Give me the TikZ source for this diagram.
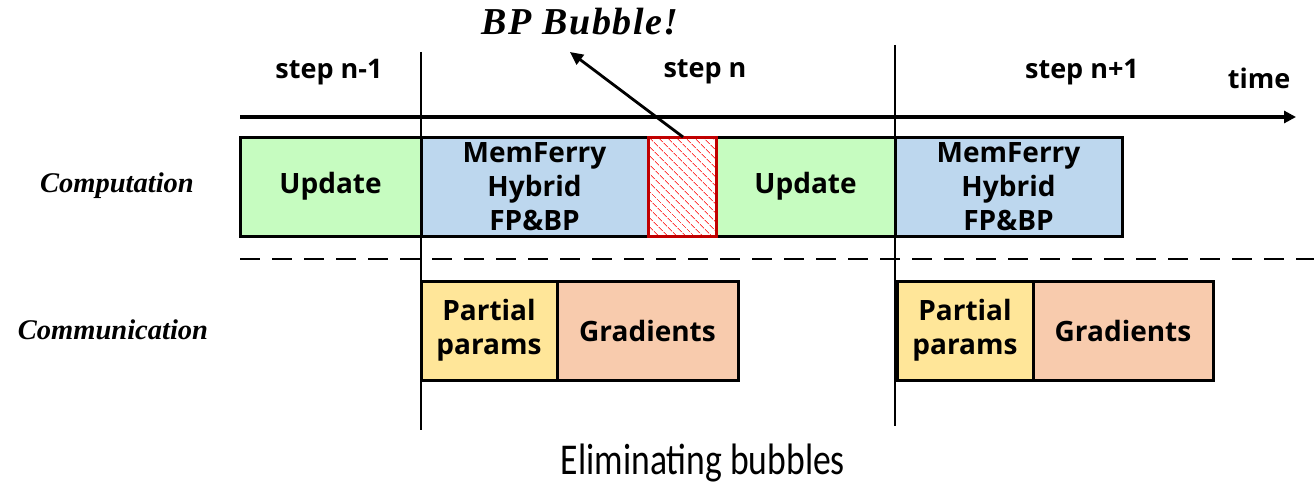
\documentclass[tikz,border=0pt]{standalone}
\usepackage{graphicx}
\usepackage{fontspec}
\setmainfont{Liberation Serif}
\setsansfont{Open Sans}
\newfontfamily\captionfont{Carlito}
\usetikzlibrary{patterns.meta,arrows.meta}

\definecolor{updgreen}{HTML}{C6FCC0}
\definecolor{fbblue}{HTML}{BDD7EE}
\definecolor{ppyellow}{HTML}{FFE699}
\definecolor{gradsalmon}{HTML}{F8CBAD}
\definecolor{bubred}{HTML}{C00000}

\tikzset{
  blk/.style={draw=black, line width=3pt, anchor=north west, align=center,
    inner sep=0pt, outer sep=0pt,
    font=\sffamily\bfseries\fontsize{28}{34}\selectfont},
  steplabel/.style={font=\sffamily\bfseries\fontsize{27}{30}\selectfont},
  rowlabel/.style={font=\bfseries\itshape\fontsize{28.5}{32}\selectfont},
  divider/.style={line width=2.8pt},
}

\begin{document}
\begin{tikzpicture}[x=1pt,y=-1pt]
\useasboundingbox (0,0) rectangle (1314,487);

% time axis
\coordinate (t0) at (240,117);
\coordinate (t1) at (1296,117);
\draw[line width=4pt, -{Triangle[length=12pt,width=12pt]}] (t0) -- (t1);

% step dividers
\coordinate (d1a) at (421,52);
\coordinate (d1b) at (421,430);
\coordinate (d2a) at (895,45);
\coordinate (d2b) at (895,426);

% computation row
\node[blk, fill=updgreen, minimum width=181pt, minimum height=99pt] (u1) at (240,137) {Update};
\node[blk, fill=fbblue, minimum width=227pt, minimum height=99pt] (f1) at (421,137) {MemFerry\\Hybrid\\FP\&BP};
\node[blk, draw=bubred, minimum width=68pt, minimum height=99pt,
      pattern={Lines[angle=-45,distance=6.5pt,line width=0.9pt]}, pattern color=red!75] (bub) at (648,137) {};
\node[blk, fill=updgreen, minimum width=179pt, minimum height=99pt] (u2) at (716,137) {Update};
\node[blk, fill=fbblue, minimum width=227pt, minimum height=99pt] (f2) at (895,137) {MemFerry\\Hybrid\\FP\&BP};
% bubble outline drawn again above its neighbours
\draw[bubred, line width=3pt] (bub.north west) rectangle (bub.south east);

% row separator
\coordinate (s0) at (240,259);
\coordinate (s1) at (1314,259);
\draw[line width=2.6pt, dash pattern=on 20pt off 12pt] (s0) -- (s1);

% communication row
\node[blk, fill=ppyellow, minimum width=136pt, minimum height=99pt] (p1) at (421,281) {Partial\\params};
\node[blk, fill=gradsalmon, minimum width=181pt, minimum height=99pt] (g1) at (557,281) {Gradients};
\node[blk, fill=ppyellow, minimum width=136pt, minimum height=99pt] (p2) at (897,281) {Partial\\params};
\node[blk, fill=gradsalmon, minimum width=180pt, minimum height=99pt] (g2) at (1033,281) {Gradients};

\draw[divider] (d1a) -- (d1b);
\draw[divider] (d2a) -- (d2b);

% labels
\node[steplabel] (sl1) at (329,72) {step n-1};
\node[steplabel] (sl2) at (705,72) {step n};
\node[steplabel] (sl3) at (1082,72) {step n+1};
\node[steplabel] (tl) at (1259,78) {time};

\node[rowlabel] (comp) at (117,186) {Computation};
\node[rowlabel] (comm) at (113,330) {Communication};

\node[font=\bfseries\itshape\fontsize{38}{42}\selectfont\addfontfeature{LetterSpace=4}] (bpb) at (580,22) {BP Bubble!};
\coordinate (bubtop) at (683,137);
\coordinate (bubtip) at (570,52);
\draw[line width=2.8pt, -{Triangle[length=13pt,width=12pt]}] (bubtop) -- (bubtip);

\node[font=\captionfont\fontsize{44}{48}\selectfont] (cap) at (703,463) {\scalebox{0.81}[1]{Eliminating bubbles}};
\end{tikzpicture}
\end{document}
